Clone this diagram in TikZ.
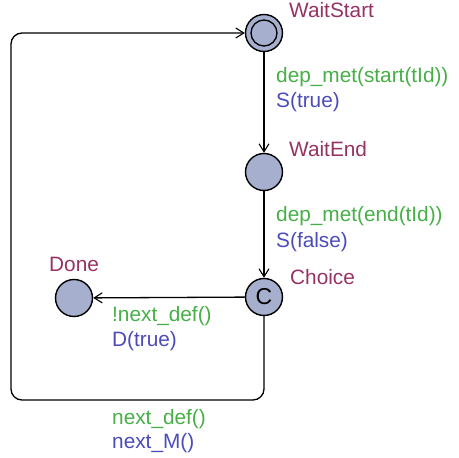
\documentclass[tikz,border=0pt]{standalone}
\usepackage{fontspec}
\setmainfont{Liberation Sans}
\usetikzlibrary{arrows.meta}
\definecolor{locname}{RGB}{150,50,100}
\definecolor{guard}{RGB}{70,175,70}
\definecolor{upd}{RGB}{75,75,185}
\definecolor{locfill}{RGB}{166,175,206}
\tikzset{
  loc/.style={circle,draw=black,line width=1.4pt,fill=locfill,minimum size=37pt,inner sep=0pt},
  lbl/.style={anchor=base west,inner sep=0pt,font=\fontsize{20.8}{24}\selectfont},
  conn/.style={line width=1.3pt,-{Straight Barb[length=8pt,width=10pt,line width=1.1pt]}},
}
\begin{document}
\begin{tikzpicture}[x=1pt,y=1pt]
\useasboundingbox (0,0) rectangle (459,458);
\node[loc] (ws) at (264,425) {};
\draw[line width=1.3pt] (ws.center) circle (13);
\node[loc] (we) at (264,286) {};
\node[loc,font=\fontsize{23}{24}\selectfont] (ch) at (264,161) {C};
\node[loc] (dn) at (74,160) {};

\node[lbl,text=locname] (nws) at (289,440) {WaitStart};
\node[lbl,text=locname] (nwe) at (289,301) {WaitEnd};
\node[lbl,text=locname] (nch) at (290,173) {Choice};
\node[lbl,text=locname] (ndn) at (49,186) {Done};

\node[lbl,text=guard] (g1) at (276,375) {dep\_met(start(tId))};
\node[lbl,text=upd] (u1) at (276,350) {S(true)};
\node[lbl,text=guard] (g2) at (276,236) {dep\_met(end(tId))};
\node[lbl,text=upd] (u2) at (276,210) {S(false)};
\node[lbl,text=guard] (g3) at (112,136) {!next\_def()};
\node[lbl,text=upd] (u3) at (112,111) {D(true)};
\node[lbl,text=guard] (g4) at (112,33) {next\_def()};
\node[lbl,text=upd] (u4) at (112,9) {next\_M()};

\draw[conn] (ws) -- (we);
\draw[conn] (we) -- (ch);
\draw[conn] (ch) -- (dn);
\coordinate (c1) at (264,58);
\coordinate (c2) at (11,58);
\coordinate (c3) at (11,425);
\draw[conn,rounded corners=11pt] (ch.south) -- (c1) -- (c2) -- (c3) -- (ws.west);
\end{tikzpicture}
\end{document}
